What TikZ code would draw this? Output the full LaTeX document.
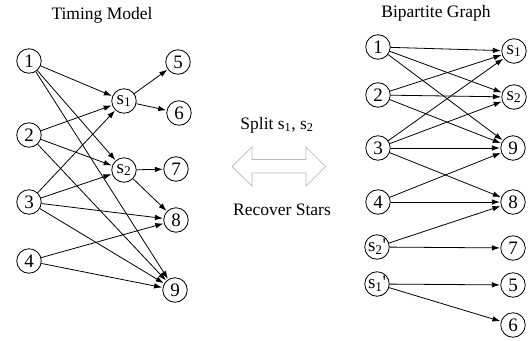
\documentclass[tikz,border=0pt]{standalone}
\usepackage{fontspec}
\setmainfont{Liberation Serif}
\usetikzlibrary{arrows.meta}
\begin{document}
\begin{tikzpicture}[x=1pt,y=-1pt,
  vert/.style={circle,draw,line width=0.8pt,minimum size=24.5pt,inner sep=0pt,font=\fontsize{19}{20}\selectfont},
  edge/.style={line width=0.8pt,-{Latex[length=8pt,width=5.5pt]},shorten >=0.5pt},
  lbl/.style={font=\fontsize{17.5}{20}\selectfont,inner sep=0pt}]
\useasboundingbox (0,0) rectangle (529,340);
% titles
\node[lbl] (t1) at (102,15) {Timing Model};
\node[lbl] (t2) at (436,13) {Bipartite Graph};
% left graph
\node[vert] (a1) at (29,61) {1};
\node[vert] (a2) at (29,135) {2};
\node[vert] (a3) at (29,202) {3};
\node[vert] (a4) at (29,261) {4};
\node[vert] (as1) at (124,101) {s\textsubscript{1}};
\node[vert] (as2) at (124,170) {s\textsubscript{2}};
\node[vert] (a5) at (178,62) {5};
\node[vert] (a6) at (179,113) {6};
\node[vert] (a7) at (176,169) {7};
\node[vert] (a8) at (176,220) {8};
\node[vert] (a9) at (175,290) {9};
\foreach \s/\t in {a1/as1,a1/as2,a1/a9,a2/as1,a2/as2,a2/a9,a3/as1,a3/as2,a3/a8,a3/a9,a4/a8,a4/a9,as1/a5,as1/a6,as2/a7,as2/a8}
  \draw[edge] (\s) -- (\t);
% middle
\node[lbl] (split) at (277,125) {Split s\textsubscript{1}, s\textsubscript{2}};
\node[lbl] (rec) at (282,210) {Recover Stars};
\draw[line width=0.7pt,draw=black!28,line join=miter]
  (232,166.5) -- (252,147) -- (252,159.5) -- (306,159.5) -- (306,147) -- (325.5,166.5)
  -- (306,186) -- (306,173) -- (252,173) -- (252,186) -- cycle;
% right graph
\node[vert] (b1) at (378,47) {1};
\node[vert] (b2) at (378,95) {2};
\node[vert] (b3) at (378,148) {3};
\node[vert] (b4) at (378,202) {4};
\node[vert] (bs2p) at (377,247) {s\textsubscript{2}\textquotesingle};
\node[vert] (bs1p) at (377,284) {s\textsubscript{1}\textquotesingle};
\node[vert] (bs1) at (514,51) {s\textsubscript{1}};
\node[vert] (bs2) at (514,97) {s\textsubscript{2}};
\node[vert] (b9) at (513,148) {9};
\node[vert] (b8) at (513,202) {8};
\node[vert] (b7) at (513,248) {7};
\node[vert] (b5) at (513,285) {5};
\node[vert] (b6) at (513,325) {6};
\foreach \s/\t in {b1/bs1,b1/bs2,b1/b9,b2/bs1,b2/bs2,b2/b9,b3/bs1,b3/bs2,b3/b9,b3/b8,b4/b9,b4/b8,bs2p/b8,bs2p/b7,bs1p/b5,bs1p/b6}
  \draw[edge] (\s) -- (\t);
\end{tikzpicture}
\end{document}
